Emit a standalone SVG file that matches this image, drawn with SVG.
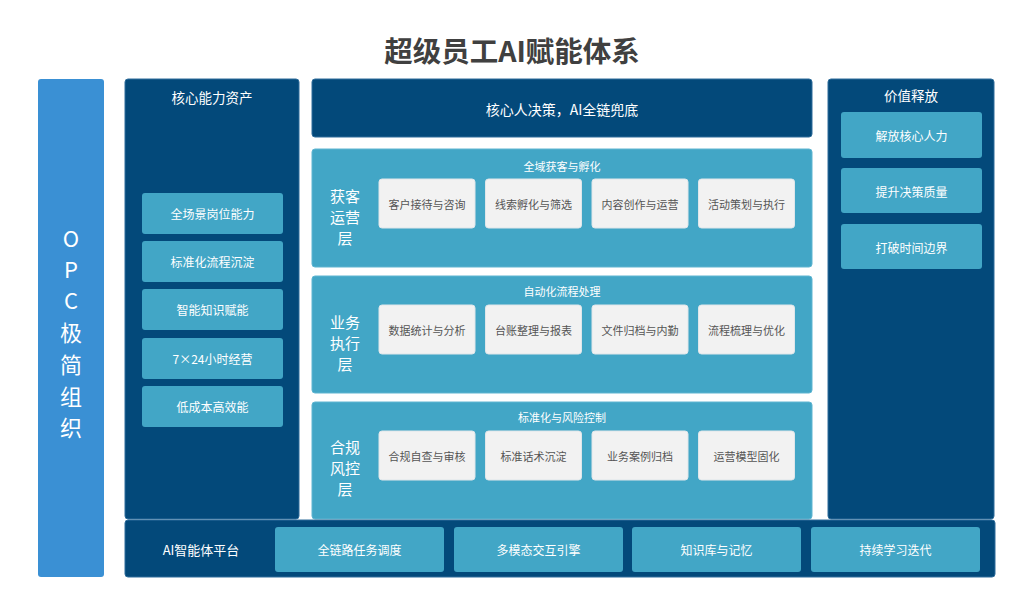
<svg xmlns="http://www.w3.org/2000/svg" width="1024" height="599" viewBox="0 0 1024 599">
<style>
text{font-family:"Noto Sans CJK SC","Liberation Sans",sans-serif;text-anchor:middle;dominant-baseline:central}
.navy{fill:#03497a;stroke:#2f6d9b;stroke-width:1}
.teal{fill:#42a6c6;stroke:#5fb5d1;stroke-width:1}
.titem{fill:#42a6c6}
.grey{fill:#f2f2f2;stroke:#dfe6ea;stroke-width:1}
.w{fill:#ffffff}
.gt{fill:#555555;font-size:11px}
.it{fill:#ffffff;font-size:12px}
.sub{fill:#ffffff;font-size:11px}
.side{fill:#ffffff;font-size:15px}
.pt{fill:#ffffff;font-size:13.5px}
</style>
<rect width="1024" height="599" fill="#ffffff"/>
<text x="512" y="49" font-size="28.5" font-weight="bold" fill="#404040">超级员工AI赋能体系</text>

<g id="opc">
<rect x="38" y="79" width="66" height="498" rx="3" fill="#3a90d4"/>
<g font-size="22">
<text x="71" y="237" class="w">O</text>
<text x="71" y="268" class="w">P</text>
<text x="71" y="299" class="w">C</text>
<text x="71" y="331" class="w">极</text>
<text x="71" y="363" class="w">简</text>
<text x="71" y="395" class="w">组</text>
<text x="71" y="426" class="w">织</text>
</g>
</g>

<g id="core-assets">
<rect x="125" y="79" width="174" height="440" rx="3" class="navy"/>
<text x="212" y="97" class="pt">核心能力资产</text>
<rect x="142" y="193" width="141" height="41" rx="3" class="titem"/>
<text x="212.5" y="213.5" class="it">全场景岗位能力</text>
<rect x="142" y="241" width="141" height="41" rx="3" class="titem"/>
<text x="212.5" y="261.5" class="it">标准化流程沉淀</text>
<rect x="142" y="289" width="141" height="41" rx="3" class="titem"/>
<text x="212.5" y="309.5" class="it">智能知识赋能</text>
<rect x="142" y="338" width="141" height="41" rx="3" class="titem"/>
<text x="212.5" y="358.5" class="it">7×24小时经营</text>
<rect x="142" y="386" width="141" height="41" rx="3" class="titem"/>
<text x="212.5" y="406.5" class="it">低成本高效能</text>
</g>

<g id="decision">
<rect x="312" y="79" width="500" height="58" rx="3" class="navy"/>
<text x="562" y="108.5" fill="#ffffff" font-size="14">核心人决策，AI全链兜底</text>
</g>

<g id="layer-acquire">
<rect x="312" y="149" width="500" height="118" rx="3" class="teal"/>
<text x="562" y="165.5" class="sub">全域获客与孵化</text>
<text x="345" y="195" class="side">获客</text>
<text x="345" y="216" class="side">运营</text>
<text x="345" y="237" class="side">层</text>
<rect x="379" y="179" width="96" height="49" rx="3" class="grey"/>
<text x="427" y="203.5" class="gt">客户接待与咨询</text>
<rect x="485.5" y="179" width="96" height="49" rx="3" class="grey"/>
<text x="533.5" y="203.5" class="gt">线索孵化与筛选</text>
<rect x="592" y="179" width="96" height="49" rx="3" class="grey"/>
<text x="640" y="203.5" class="gt">内容创作与运营</text>
<rect x="698.5" y="179" width="96" height="49" rx="3" class="grey"/>
<text x="746.5" y="203.5" class="gt">活动策划与执行</text>
</g>

<g id="layer-execute">
<rect x="312" y="276" width="500" height="117" rx="3" class="teal"/>
<text x="562" y="291" class="sub">自动化流程处理</text>
<text x="345" y="321" class="side">业务</text>
<text x="345" y="342" class="side">执行</text>
<text x="345" y="363" class="side">层</text>
<rect x="379" y="305" width="96" height="49" rx="3" class="grey"/>
<text x="427" y="330" class="gt">数据统计与分析</text>
<rect x="485.5" y="305" width="96" height="49" rx="3" class="grey"/>
<text x="533.5" y="330" class="gt">台账整理与报表</text>
<rect x="592" y="305" width="96" height="49" rx="3" class="grey"/>
<text x="640" y="330" class="gt">文件归档与内勤</text>
<rect x="698.5" y="305" width="96" height="49" rx="3" class="grey"/>
<text x="746.5" y="330" class="gt">流程梳理与优化</text>
</g>

<g id="layer-compliance">
<rect x="312" y="402" width="500" height="117" rx="3" class="teal"/>
<text x="562" y="417" class="sub">标准化与风险控制</text>
<text x="345" y="446" class="side">合规</text>
<text x="345" y="467" class="side">风控</text>
<text x="345" y="488" class="side">层</text>
<rect x="379" y="431" width="96" height="49" rx="3" class="grey"/>
<text x="427" y="456" class="gt">合规自查与审核</text>
<rect x="485.5" y="431" width="96" height="49" rx="3" class="grey"/>
<text x="533.5" y="456" class="gt">标准话术沉淀</text>
<rect x="592" y="431" width="96" height="49" rx="3" class="grey"/>
<text x="640" y="456" class="gt">业务案例归档</text>
<rect x="698.5" y="431" width="96" height="49" rx="3" class="grey"/>
<text x="746.5" y="456" class="gt">运营模型固化</text>
</g>

<g id="value">
<rect x="828" y="79" width="166" height="440" rx="3" class="navy"/>
<text x="911" y="95" class="pt">价值释放</text>
<rect x="841" y="112" width="141" height="46" rx="3" class="titem"/>
<text x="911.5" y="135" class="it">解放核心人力</text>
<rect x="841" y="168" width="141" height="45" rx="3" class="titem"/>
<text x="911.5" y="191" class="it">提升决策质量</text>
<rect x="841" y="224" width="141" height="45" rx="3" class="titem"/>
<text x="911.5" y="247" class="it">打破时间边界</text>
</g>

<g id="platform">
<rect x="125" y="520" width="870" height="57" rx="3" class="navy"/>
<text x="201" y="549" fill="#ffffff" font-size="13">AI智能体平台</text>
<rect x="275" y="527" width="169" height="45" rx="3" class="titem"/>
<text x="359.5" y="549.5" class="it">全链路任务调度</text>
<rect x="454" y="527" width="169" height="45" rx="3" class="titem"/>
<text x="538.5" y="549.5" class="it">多模态交互引擎</text>
<rect x="632" y="527" width="169" height="45" rx="3" class="titem"/>
<text x="716.5" y="549.5" class="it">知识库与记忆</text>
<rect x="811" y="527" width="169" height="45" rx="3" class="titem"/>
<text x="895.5" y="549.5" class="it">持续学习迭代</text>
</g>

<g id="connectors"></g>
</svg>
